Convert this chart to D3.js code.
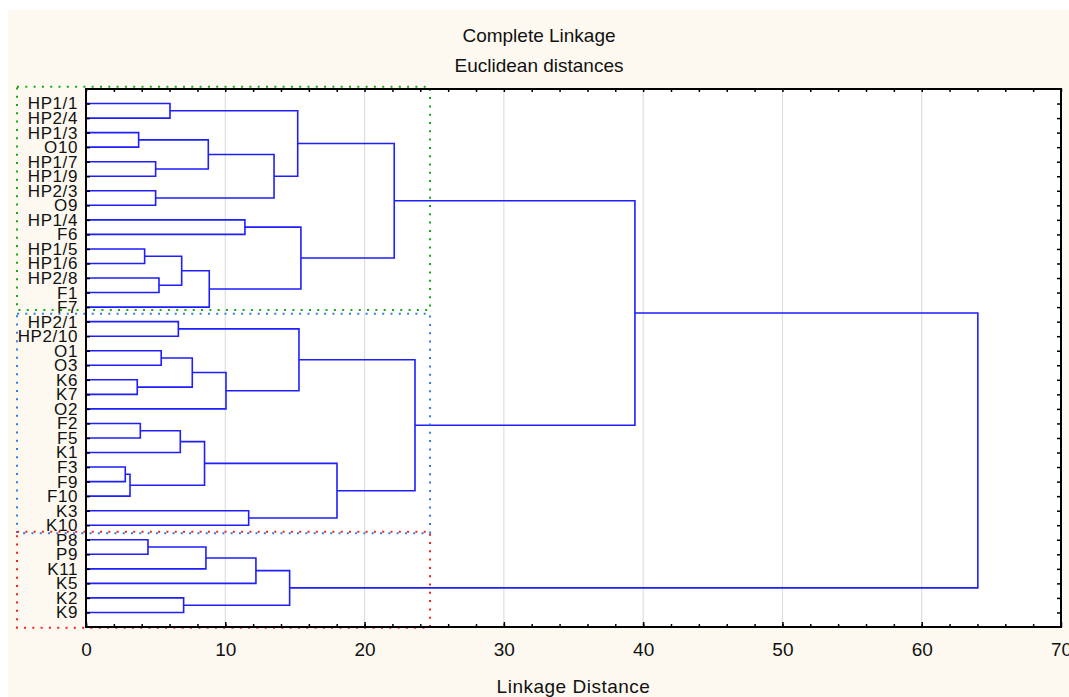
<!DOCTYPE html>
<html>
<head>
<meta charset="utf-8">
<script src="https://cdn.jsdelivr.net/npm/d3@7"></script>
<style>
  body { margin: 0; background: #fff; }
  text { font-family: 'Liberation Sans', Arial, sans-serif; fill: #111; }
</style>
</head>
<body>
<div id="chart"></div>
<script>
// leaf order, top to bottom
const leaves = ['HP1/1', 'HP2/4', 'HP1/3', 'O10', 'HP1/7', 'HP1/9', 'HP2/3', 'O9',
  'HP1/4', 'F6', 'HP1/5', 'HP1/6', 'HP2/8', 'F1', 'F7',
  'HP2/1', 'HP2/10', 'O1', 'O3', 'K6', 'K7', 'O2', 'F2', 'F5', 'K1', 'F3', 'F9', 'F10', 'K3', 'K10',
  'P8', 'P9', 'K11', 'K5', 'K2', 'K9']

// merge i joins mergeA[i] with mergeB[i] (leaf name or earlier merge 'm<index>') at mergeDist[i]
const mergeA = ['HP1/1', 'HP1/3', 'HP1/7', 'm1', 'HP2/3', 'm3', 'm0', 'HP1/4', 'HP1/5', 'HP2/8', 'm8', 'm10', 'm7', 'm6',
  'HP2/1', 'O1', 'K6', 'm15', 'm17', 'm14', 'F2', 'm20', 'F3', 'm22', 'm21', 'K3', 'm24', 'm19', 'm13',
  'P8', 'm29', 'm30', 'K2', 'm31', 'm28']
const mergeB = ['HP2/4', 'O10', 'HP1/9', 'm2', 'O9', 'm4', 'm5', 'F6', 'HP1/6', 'F1', 'm9', 'F7', 'm11', 'm12',
  'HP2/10', 'O3', 'K7', 'm16', 'O2', 'm18', 'F5', 'K1', 'F9', 'F10', 'm23', 'K10', 'm25', 'm26', 'm27',
  'P9', 'K11', 'K5', 'K9', 'm32', 'm33']
const mergeDist = [6.03, 3.78, 5.0, 8.78, 5.0, 13.5, 15.2, 11.41, 4.21, 5.24, 6.87, 8.85, 15.43, 22.13,
  6.63, 5.4, 3.68, 7.63, 10.05, 15.29, 3.9, 6.77, 2.82, 3.16, 8.51, 11.68, 18.02, 23.62, 39.41,
  4.45, 8.61, 12.2, 7.01, 14.62, 64.03]

// marked groups: first leaf, last leaf, colour
const groupFirst = ['HP1/1', 'HP2/1', 'P8']
const groupLast = ['F7', 'K10', 'K9']
const groupColor = ['#16a816', '#2f7fe8', '#ee2222']
const groupRight = 24.7

const xTicks = [0, 10, 20, 30, 40, 50, 60, 70]

const width = 1069, height = 697
const margin = {top: 89, right: 8, bottom: 70, left: 86}
const plotW = width - margin.left - margin.right
const plotH = height - margin.top - margin.bottom

const svg = d3
  .select('#chart')
  .append('svg')
  .attr('width', width)
  .attr('height', height)

// cream panel
svg
  .append('rect')
  .attr('x', 8)
  .attr('y', 10)
  .attr('width', width - 8)
  .attr('height', height - 10)
  .attr('fill', '#fdf9f0')

const x = d3.scaleLinear().domain([0, 70]).range([margin.left, margin.left + plotW])
const y = d3
  .scalePoint()
  .domain(leaves)
  .range([margin.top, margin.top + plotH])
  .padding(1)
const step = y.step()

svg
  .append('rect')
  .attr('x', margin.left)
  .attr('y', margin.top)
  .attr('width', plotW)
  .attr('height', plotH)
  .attr('fill', '#fff')

// grid
svg
  .selectAll('.grid')
  .data(xTicks.slice(1, -1))
  .enter()
  .append('line')
  .attr('x1', d => x(d))
  .attr('x2', d => x(d))
  .attr('y1', margin.top)
  .attr('y2', margin.top + plotH)
  .attr('stroke', '#dedede')
  .attr('stroke-width', 1.2)

// dendrogram
const nodes = {}
leaves.forEach(l => { nodes[l] = {h: 0, y: y(l)} })
const links = []
mergeDist.forEach(function(h, i) {
  const a = nodes[mergeA[i]], b = nodes[mergeB[i]]
  nodes['m' + i] = {h: h, y: (a.y + b.y) / 2}
  links.push({a: a, b: b, h: h})
})

svg
  .selectAll('.link')
  .data(links)
  .enter()
  .append('path')
  .attr('d', d => 'M' + x(d.a.h) + ',' + d.a.y + 'H' + x(d.h) + 'V' + d.b.y + 'H' + x(d.b.h))
  .attr('fill', 'none')
  .attr('stroke', '#1e1eff')
  .attr('stroke-width', 1.6)

// axes
const tickFont = function(g) {
  g.select('.domain').remove()
  g.selectAll('line').attr('stroke', '#000').attr('stroke-width', 1.5)
  g.selectAll('text').style('font-size', '19px').attr('fill', '#111')
}

svg
  .append('g')
  .attr('transform', `translate(0,${margin.top + plotH})`)
  .call(d3.axisBottom(x).tickValues(d3.range(0, 70, 2)).tickSize(-3).tickFormat(''))
  .call(tickFont)
svg
  .append('g')
  .attr('transform', `translate(0,${margin.top + plotH})`)
  .call(d3.axisBottom(x).tickValues(xTicks).tickSize(-5).tickPadding(16).tickFormat(d3.format('d')))
  .call(tickFont)
svg
  .append('g')
  .attr('transform', `translate(0,${margin.top})`)
  .call(d3.axisTop(x).tickValues(d3.range(0, 71, 2)).tickSize(-3).tickFormat(''))
  .call(tickFont)
svg
  .append('g')
  .attr('transform', `translate(${margin.left},0)`)
  .call(d3.axisLeft(y).tickSize(-4).tickPadding(8))
  .call(tickFont)
  .selectAll('text')
  .style('font-size', '17px')
  .style('letter-spacing', '0.6px')
svg
  .append('g')
  .attr('transform', `translate(${margin.left + plotW},0)`)
  .call(d3.axisRight(y).tickSize(-4).tickFormat(''))
  .call(tickFont)

// group boxes
svg
  .selectAll('.box')
  .data(groupColor)
  .enter()
  .append('rect')
  .attr('x', 17)
  .attr('y', (d, i) => y(groupFirst[i]) - step * (i === 0 ? 1.15 : 0.55))
  .attr('width', x(groupRight) - 17)
  .attr('height', (d, i) => y(groupLast[i]) - y(groupFirst[i]) + step * (i === 0 ? 1.35 : i === 1 ? 1.1 : 1.6))
  .attr('fill', 'none')
  .attr('stroke', d => d)
  .attr('stroke-width', 2)
  .attr('stroke-dasharray', '2,6.3')

// frame
svg
  .append('rect')
  .attr('x', margin.left)
  .attr('y', margin.top)
  .attr('width', plotW)
  .attr('height', plotH)
  .attr('fill', 'none')
  .attr('stroke', '#000')
  .attr('stroke-width', 2)

// titles
svg
  .append('text')
  .attr('x', 539)
  .attr('y', 42)
  .attr('text-anchor', 'middle')
  .style('font-size', '19px')
  .text('Complete Linkage')
svg
  .append('text')
  .attr('x', 539)
  .attr('y', 72)
  .attr('text-anchor', 'middle')
  .style('font-size', '19px')
  .text('Euclidean distances')
svg
  .append('text')
  .attr('x', margin.left + plotW / 2)
  .attr('y', 693)
  .attr('text-anchor', 'middle')
  .style('font-size', '19px')
  .style('letter-spacing', '0.5px')
  .text('Linkage Distance')
</script>
</body>
</html>
